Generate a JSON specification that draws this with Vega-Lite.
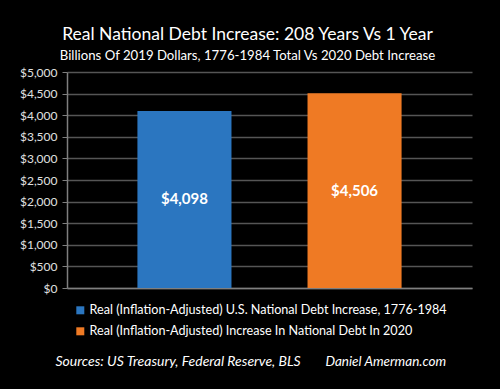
{
  "$schema": "https://vega.github.io/schema/vega-lite/v6.json",
  "width": 405,
  "height": 216,
  "autosize": {"type": "none"},
  "padding": {"left": 67, "top": 72, "right": 28, "bottom": 101},
  "background": "black",
  "title": {
    "text": "Real National Debt Increase:  208 Years Vs 1 Year",
    "subtitle": "Billions Of 2019 Dollars, 1776-1984 Total Vs 2020 Debt Increase",
    "color": "white",
    "subtitleColor": "white",
    "font": "Lato",
    "subtitleFont": "Lato",
    "fontSize": 17.5,
    "subtitleFontSize": 13.2,
    "fontWeight": "normal",
    "anchor": "middle",
    "frame": "group",
    "dx": -22,
    "offset": 4,
    "subtitlePadding": 6
  },
  "data": {
    "values": [
      {"series": "Real (Inflation-Adjusted) U.S. National Debt Increase, 1776-1984", "value": 4098, "label": "$4,098"},
      {"series": "Real (Inflation-Adjusted) Increase In National Debt In 2020", "value": 4506, "label": "$4,506"}
    ]
  },
  "layer": [
    {
      "mark": {"type": "bar"},
      "encoding": {
        "x": {
          "field": "series", "type": "nominal", "sort": null,
          "scale": {"paddingInner": 0.447, "paddingOuter": 0.414},
          "axis": {
            "labels": false, "ticks": false, "domain": true, "domainColor": "#7f7f7f", "domainWidth": 1.5,
            "title": "Sources:  US Treasury, Federal Reserve, BLS",
            "titleColor": "white", "titleFont": "Lato", "titleFontSize": 14, "titleFontStyle": "italic", "titleFontWeight": "normal",
            "titleX": -12, "titleY": 77, "titleAnchor": "start", "titleAlign": "left", "titleBaseline": "alphabetic"
          }
        },
        "y": {
          "field": "value", "type": "quantitative",
          "scale": {"domain": [0, 5000]},
          "axis": {
            "values": [0, 500, 1000, 1500, 2000, 2500, 3000, 3500, 4000, 4500, 5000],
            "format": "$,.0f",
            "title": null,
            "labelColor": "#e0e0e0", "labelFont": "Lato", "labelFontSize": 12, "labelPadding": 5,
            "grid": true, "gridColor": "#555555", "gridWidth": 1.5,
            "domainColor": "#7f7f7f", "domainWidth": 1.5,
            "tickColor": "#7f7f7f", "tickSize": 5
          }
        },
        "color": {
          "field": "series", "type": "nominal", "sort": null,
          "scale": {"range": ["#2b76c0", "#ef7a24"]},
          "legend": {
            "title": null, "orient": "none", "legendX": 7, "legendY": 232,
            "symbolType": "square", "symbolSize": 64, "symbolStrokeWidth": 0,
            "labelColor": "white", "labelFont": "Lato", "labelFontSize": 12.6, "labelLimit": 0,
            "rowPadding": 8, "labelOffset": 3
          }
        }
      }
    },
    {
      "mark": {"type": "text", "color": "white", "font": "Lato", "fontSize": 15, "fontWeight": "bold", "baseline": "middle", "align": "center"},
      "encoding": {
        "x": {
          "field": "series", "type": "nominal", "sort": null,
          "bandPosition": 0.5,
          "scale": {"type": "band", "paddingInner": 0.447, "paddingOuter": 0.414},
          "axis": {
            "orient": "top", "labels": false, "ticks": false, "domain": false, "grid": false,
            "title": "Daniel Amerman.com",
            "titleColor": "white", "titleFont": "Lato", "titleFontSize": 13.5, "titleFontStyle": "italic", "titleFontWeight": "normal",
            "titleX": 258, "titleY": 293, "titleAnchor": "start", "titleAlign": "left", "titleBaseline": "alphabetic"
          }
        },
        "y": {
          "field": "value", "type": "quantitative",
          "scale": {"domain": [0, 10000]},
          "axis": null
        },
        "text": {"field": "label"}
      }
    }
  ],
  "resolve": {"scale": {"y": "independent", "x": "independent"}, "axis": {"x": "independent"}},
  "config": {"view": {"stroke": null}}
}
